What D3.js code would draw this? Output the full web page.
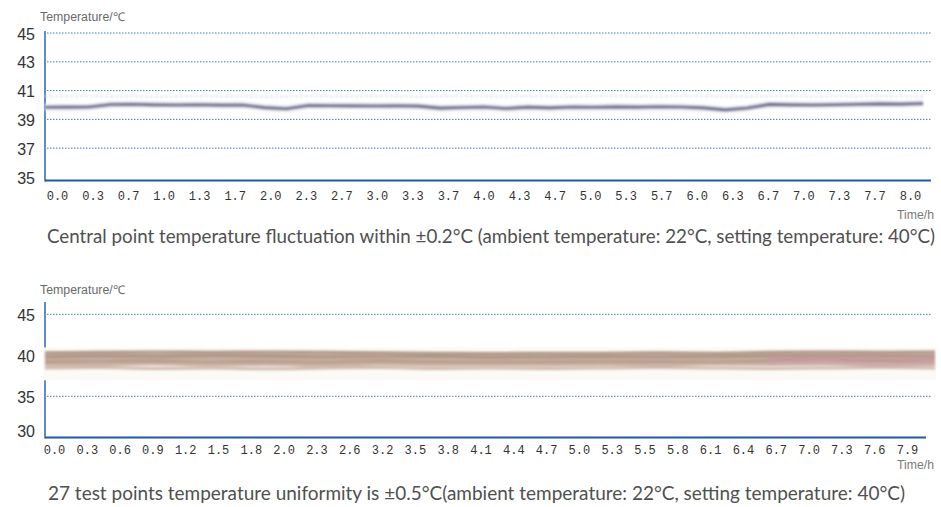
<!DOCTYPE html>
<html><head><meta charset="utf-8">
<script src="https://cdn.jsdelivr.net/npm/d3@7"></script>
<style>html,body{margin:0;padding:0;background:#fff;}svg{display:block;}</style>
</head><body>
<script>
// ---------- DATA ----------
// Chart 1: central point temperature
const yTicks1 = [35, 37, 39, 41, 43, 45];
const xLabels1 = ["0.0","0.3","0.7","1.0","1.3","1.7","2.0","2.3","2.7","3.0","3.3","3.7","4.0","4.3","4.7","5.0","5.3","5.7","6.0","6.3","6.7","7.0","7.3","7.7","8.0"];
const times1 = [0.0,0.2,0.4,0.6,0.8,1.0,1.2,1.4,1.6,1.8,2.0,2.2,2.4,2.6,2.8,3.0,3.2,3.4,3.6,3.8,4.0,4.2,4.4,4.6,4.8,5.0,5.2,5.4,5.6,5.8,6.0,6.2,6.4,6.6,6.8,7.0,7.2,7.4,7.6,7.8,8.0];
const temps1 = [39.84,39.85,39.86,40.03,40.05,40.01,40.00,40.02,39.99,40.00,39.82,39.74,39.97,39.95,39.94,39.93,39.95,39.92,39.78,39.83,39.86,39.76,39.85,39.80,39.86,39.84,39.87,39.85,39.88,39.86,39.80,39.66,39.79,40.04,40.01,40.00,40.02,40.05,40.08,40.06,40.10];
const faint1 = [40.62,40.60,40.63,40.58,40.61,40.57,40.60,40.62,40.59,40.61,40.58,40.60,40.63,40.61,40.59,40.62,40.60,40.58,40.61,40.63,40.60,40.59,40.62,40.60,40.58,40.61,40.63,40.60,40.59,40.62,40.60,40.61,40.58,40.60,40.62,40.59,40.61,40.60,40.62,40.61,40.60];
const caption1 = "Central point temperature fluctuation within ±0.2°C (ambient temperature: 22°C, setting temperature: 40°C)";

// Chart 2: 27 test points uniformity
const yTicks2 = [30, 35, 40, 45];
const xLabels2 = ["0.0","0.3","0.6","0.9","1.2","1.5","1.8","2.0","2.3","2.6","3.2","3.5","3.8","4.1","4.4","4.7","5.0","5.3","5.5","5.8","6.1","6.4","6.7","7.0","7.3","7.6","7.9"];
const times2 = [0.0,0.5,1.0,1.5,2.0,2.5,3.0,3.5,4.0,4.5,5.0,5.5,6.0,6.5,7.0,7.5,8.0];
const probeA = [40.35,40.40,40.45,40.40,40.45,40.40,40.35,40.30,40.25,40.30,40.30,40.35,40.30,40.40,40.45,40.40,40.45];
const probeB = [40.05,40.15,40.10,40.20,40.15,40.05,40.15,40.10,40.00,40.05,40.00,40.10,40.05,40.15,40.20,40.15,40.15];
const probeC = [39.75,39.85,39.80,39.90,39.85,39.75,39.80,39.85,39.70,39.75,39.80,39.75,39.80,39.85,39.90,39.85,39.80];
const probeD = [39.45,39.55,39.50,39.55,39.45,39.50,39.55,39.45,39.40,39.45,39.50,39.45,39.50,39.55,39.55,39.50,39.45];
const probeE = [39.15,39.20,39.25,39.15,39.20,39.10,39.25,39.15,39.10,39.15,39.20,39.15,39.15,39.25,39.20,39.25,39.15];
const probeF = [38.85,38.90,38.95,38.85,38.90,38.80,38.95,38.85,38.90,38.85,38.90,38.85,38.95,38.90,38.95,38.85,38.90];
const probeG = [38.45,38.50,38.40,38.45,38.35,38.45,38.50,38.40,38.45,38.40,38.45,38.50,38.45,38.40,38.45,38.50,38.45];
const probeH = [null,null,null,null,null,null,null,null,null,null,null,null,null,39.70,39.60,39.75,39.65];
const probeI = [null,null,null,null,null,null,null,null,null,null,null,null,null,39.00,39.10,38.95,39.05];
const caption2 = "27 test points temperature uniformity is ±0.5°C(ambient temperature: 22°C, setting temperature: 40°C)";

// ---------- DRAW ----------
const W = 941, H = 507;
const svg = d3.select("body").append("svg").attr("width", W).attr("height", H);
const defs = svg.append("defs");
defs.append("filter").attr("id","blur1").attr("x","-5%").attr("y","-200%").attr("width","110%").attr("height","500%")
  .append("feGaussianBlur").attr("stdDeviation", 0.9);
defs.append("filter").attr("id","blur2").attr("x","-5%").attr("y","-100%").attr("width","110%").attr("height","300%")
  .append("feGaussianBlur").attr("stdDeviation", 1.2);

const gridColor = "#3f7fc6", axisColor = "#1f5aa8";
const monoFont = "'Liberation Mono','DejaVu Sans Mono',monospace";
const sansFont = "'Liberation Sans',Arial,sans-serif";
const capFont = "Lato,'Open Sans',sans-serif";

function drawChart(opt) {
  const g = svg.append("g");
  const y = d3.scaleLinear().domain(opt.yDomain).range(opt.yRange);
  const xPts = d3.scalePoint().domain(opt.xLabels).range(opt.labelRange);
  const xLin = d3.scaleLinear().domain([0, 8]).range(opt.lineRange);

  // gridlines
  g.append("g").selectAll("line").data(opt.yTicks.filter(v => v !== opt.yDomain[0])).join("line")
    .attr("x1", opt.left + 2).attr("x2", opt.gridRight)
    .attr("y1", d => y(d)).attr("y2", d => y(d))
    .attr("stroke", gridColor).attr("stroke-width", 1).attr("stroke-dasharray", "1.5,1.5");

  // y axis line
  g.append("line").attr("x1", opt.left).attr("x2", opt.left)
    .attr("y1", opt.axisTop).attr("y2", opt.bottom + 1)
    .attr("stroke", "#2c66b4").attr("stroke-width", 1.5);
  // x axis line
  g.append("line").attr("x1", opt.left).attr("x2", opt.axisRight)
    .attr("y1", opt.bottom).attr("y2", opt.bottom)
    .attr("stroke", axisColor).attr("stroke-width", 2.2);

  // y labels
  g.append("g").selectAll("text").data(opt.yTicks).join("text")
    .attr("x", 35).attr("y", d => Math.min(y(d), opt.lowestLabel) + 6.5)
    .attr("text-anchor", "end").attr("font-family", sansFont).attr("font-size", 16).attr("fill", "#333")
    .text(d => d);

  // x labels
  g.append("g").selectAll("text").data(opt.xLabels).join("text")
    .attr("x", d => xPts(d)).attr("y", opt.xLabelY)
    .attr("text-anchor", "middle").attr("font-family", monoFont).attr("font-size", 12).attr("fill", "#333")
    .text(d => d);

  // axis titles
  g.append("text").attr("x", 40).attr("y", opt.titleY)
    .attr("font-family", sansFont).attr("font-size", 12).attr("fill", "#6a6a6a")
    .attr("textLength", 85).attr("lengthAdjust", "spacingAndGlyphs").text("Temperature/℃");
  g.append("text").attr("x", 897).attr("y", opt.timeY)
    .attr("font-family", sansFont).attr("font-size", 12).attr("fill", "#7a7a7a")
    .attr("textLength", 37).attr("lengthAdjust", "spacingAndGlyphs").text("Time/h");

  // caption
  g.append("text").attr("x", opt.capX).attr("y", opt.capY)
    .attr("font-family", capFont).attr("font-weight", 400).attr("font-size", 18.5).attr("fill", "#505050")
    .attr("textLength", opt.capLen).attr("lengthAdjust", "spacingAndGlyphs").text(opt.caption);

  return {g, y, xLin};
}

// Chart 1
const c1 = drawChart({
  yDomain: [35, 45], yRange: [177, 33], yTicks: yTicks1, xLabels: xLabels1,
  labelRange: [57.5, 910.5], lineRange: [45, 923], left: 45, bottom: 180.5, axisTop: 31,
  gridRight: 931, axisRight: 931, lowestLabel: 177, xLabelY: 200, titleY: 21, timeY: 219,
  caption: caption1, capX: 47, capY: 243, capLen: 888
});
const line1 = d3.line().x((d, i) => c1.xLin(times1[i])).y(d => c1.y(d)).curve(d3.curveLinear);
c1.g.append("path").datum(faint1).attr("d", line1).attr("fill", "none")
  .attr("stroke", "#dcdce6").attr("stroke-width", 1.6).attr("stroke-dasharray", "3,2").attr("filter", "url(#blur1)");
c1.g.append("path").datum(temps1).attr("d", line1).attr("fill", "none")
  .attr("stroke", "#e6e6f4").attr("stroke-width", 7).attr("filter", "url(#blur1)");
c1.g.append("path").datum(temps1).attr("d", line1).attr("fill", "none")
  .attr("stroke", "#6c6c80").attr("stroke-width", 2.6).attr("filter", "url(#blur1)");

// Chart 2
const c2 = drawChart({
  yDomain: [30, 45], yRange: [437.3, 314.3], yTicks: yTicks2, xLabels: xLabels2,
  labelRange: [54.5, 907.5], lineRange: [45, 935], left: 45, bottom: 437.5, axisTop: 302,
  gridRight: 931, axisRight: 926, lowestLabel: 430.5, xLabelY: 454, titleY: 294, timeY: 469,
  caption: caption2, capX: 48, capY: 500, capLen: 857
});
// pale band background (covers the axis like the pasted trace image)
c2.g.append("rect").attr("x", 43).attr("width", 893)
  .attr("y", c2.y(40.95)).attr("height", c2.y(36.95) - c2.y(40.95))
  .attr("fill", "#fbfaf7");
const line2 = d3.line().defined(d => d !== null).x((d, i) => c2.xLin(times2[i])).y(d => c2.y(d)).curve(d3.curveMonotoneX);
const probes = [
  {v: probeA, c: "#9c8274", w: 2.4},
  {v: probeB, c: "#b69a88", w: 3.4},
  {v: probeC, c: "#a18a7e", w: 3.4},
  {v: probeD, c: "#c2a490", w: 3.6},
  {v: probeE, c: "#ac9282", w: 3.4},
  {v: probeF, c: "#c4a897", w: 3.4},
  {v: probeG, c: "#c9b0a2", w: 3.0},
  {v: probeH, c: "#c8969f", w: 3.4},
  {v: probeI, c: "#d2a6ae", w: 3.2}
];
const bandG = c2.g.append("g").attr("filter", "url(#blur2)");
bandG.selectAll("path").data(probes).join("path")
  .attr("d", d => line2(d.v)).attr("fill", "none")
  .attr("stroke", d => d.c).attr("stroke-width", d => d.w).attr("stroke-opacity", 0.85);
</script>
</body></html>
